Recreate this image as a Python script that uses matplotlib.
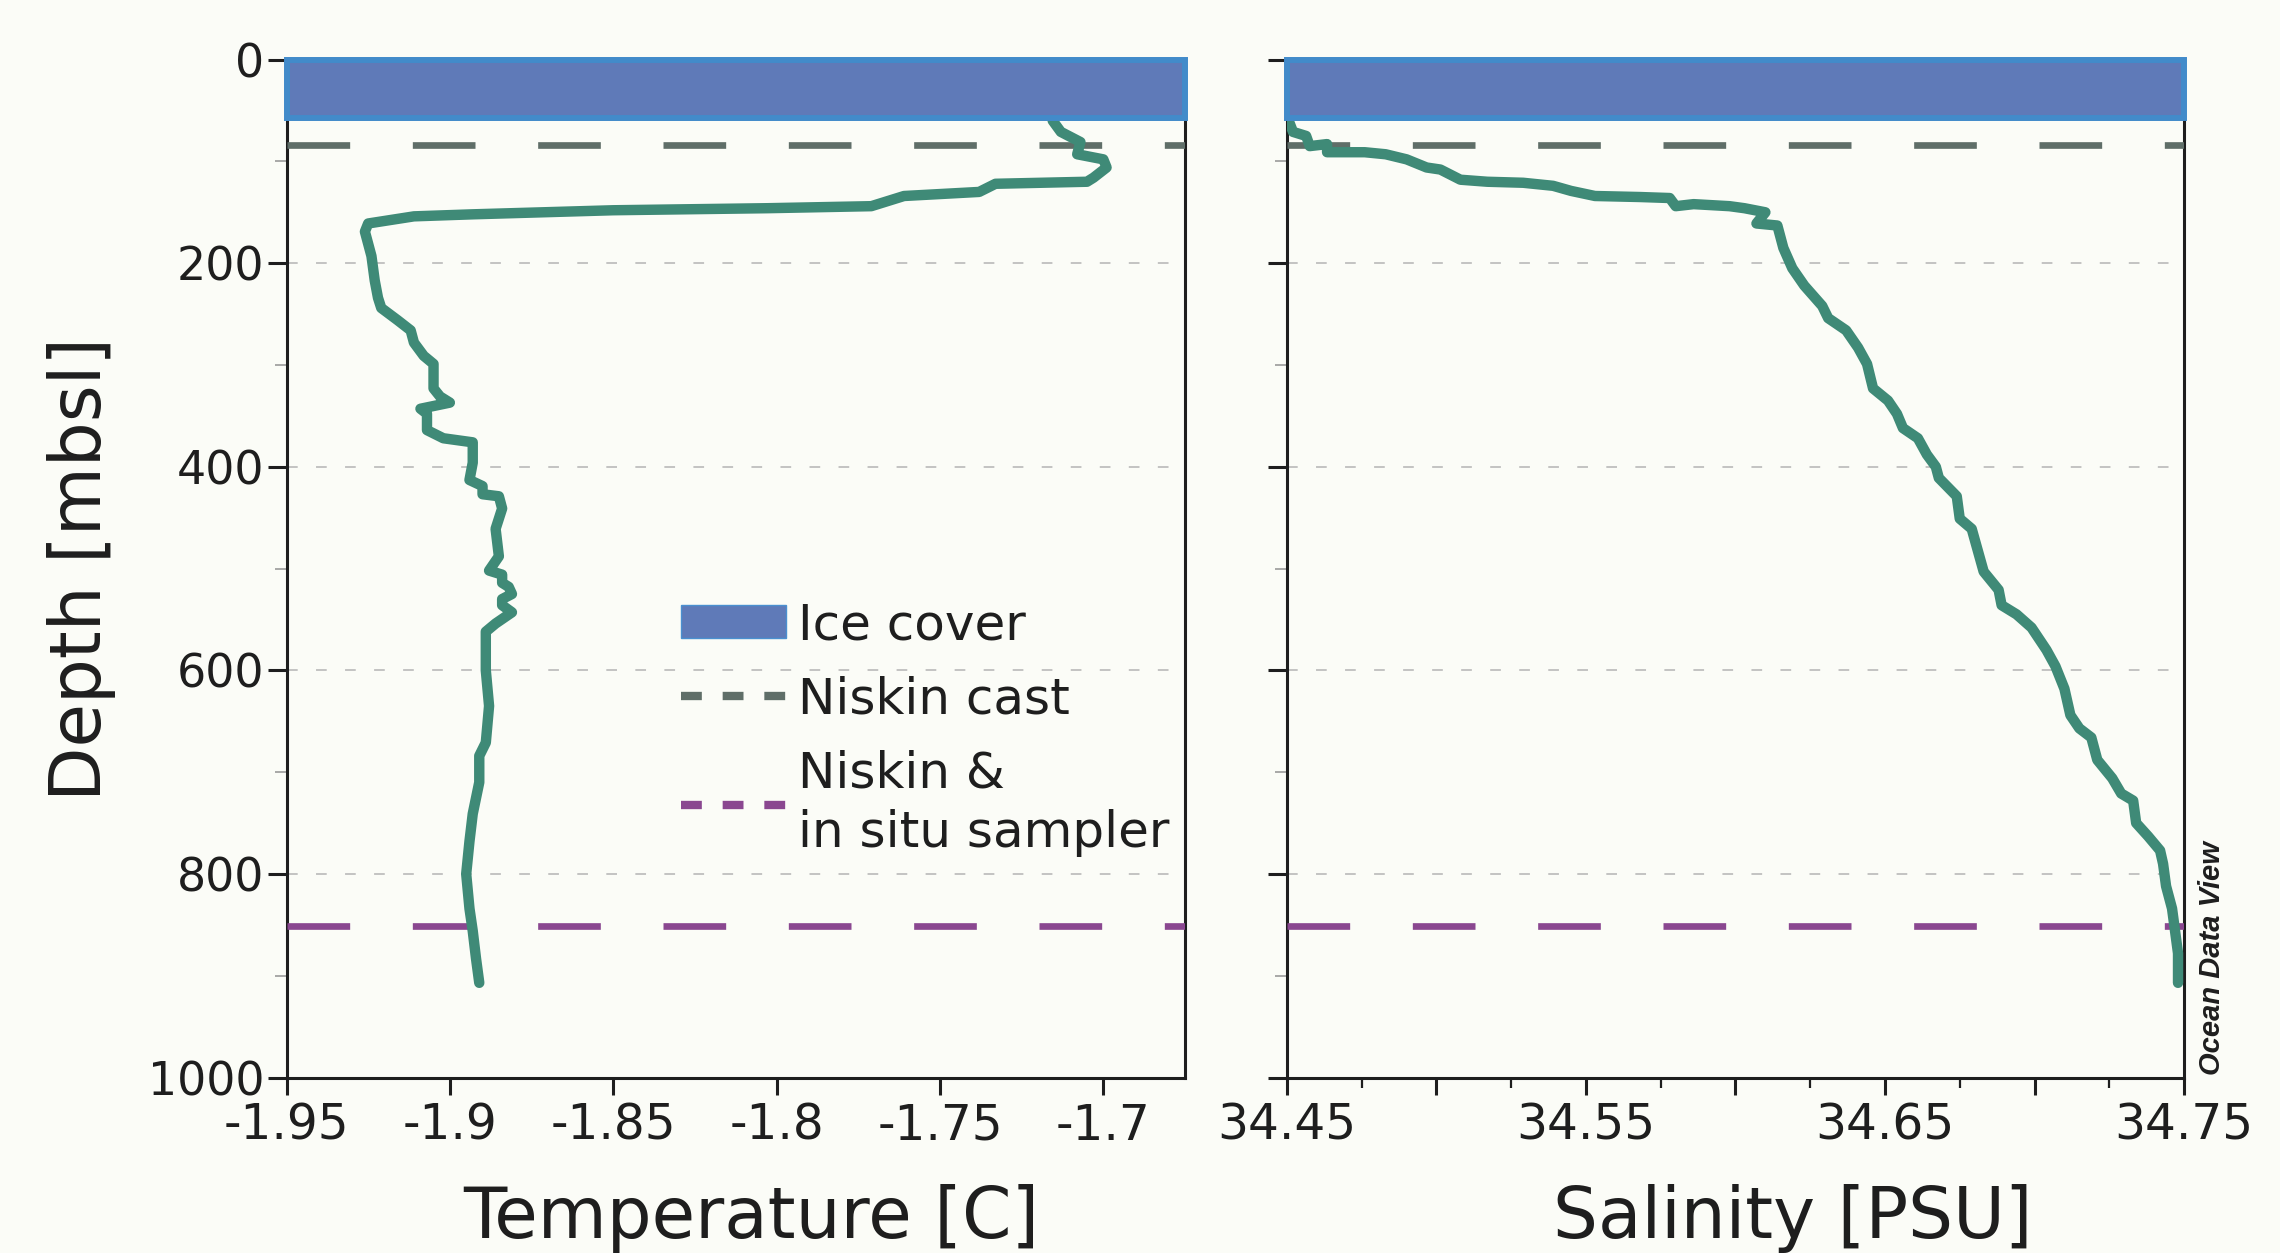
import matplotlib
matplotlib.use("Agg")
import matplotlib.pyplot as plt
from matplotlib.lines import Line2D
from matplotlib.patches import Patch
from matplotlib.ticker import FixedLocator

# ---------------- data ----------------
temp_depth = [60, 71, 81, 93, 98, 106, 116, 120, 122, 130, 134, 144, 146, 148, 152,
              154, 161, 169, 193, 217, 234, 244, 256, 266, 278, 291, 299, 323, 331, 337,
              343, 348, 364, 372, 376, 396, 413, 419, 427, 429, 441, 461, 488, 502, 506,
              514, 518, 525, 530, 536, 543, 554, 562, 600, 635, 671, 684, 710, 741, 768,
              800, 834, 856, 883, 907]
temperature = [-1.7155, -1.713, -1.707, -1.708, -1.700, -1.699, -1.703, -1.705, -1.733, -1.738,
               -1.761, -1.771, -1.803, -1.850, -1.893, -1.911, -1.925, -1.926, -1.924, -1.923,
               -1.922, -1.921, -1.916, -1.912, -1.911, -1.908, -1.905, -1.905, -1.903, -1.900,
               -1.909, -1.907, -1.907, -1.902, -1.893, -1.893, -1.894, -1.890, -1.890, -1.885,
               -1.884, -1.886, -1.885, -1.888, -1.884, -1.884, -1.882, -1.881, -1.884, -1.884,
               -1.881, -1.886, -1.889, -1.889, -1.888, -1.889, -1.891, -1.891, -1.893, -1.894,
               -1.895, -1.894, -1.893, -1.892, -1.891]

sal_depth = [61, 71, 75, 85, 83, 91, 91, 93, 98, 106, 108, 118, 120, 121, 124,
             129, 134, 135, 136, 144, 142, 144, 146, 150, 161, 163, 185, 205, 222, 242,
             254, 266, 283, 299, 323, 335, 348, 362, 372, 388, 400, 411, 429, 451, 461,
             482, 503, 521, 536, 545, 558, 580, 596, 618, 644, 657, 666, 688, 706, 721,
             728, 750, 763, 777, 790, 812, 834, 856, 878, 907]
salinity = [34.4507, 34.452, 34.4564, 34.4576, 34.4634, 34.4634, 34.476, 34.483, 34.490, 34.4967,
            34.5013, 34.508, 34.517, 34.529, 34.539, 34.545, 34.553, 34.568, 34.578, 34.580,
            34.586, 34.598, 34.603, 34.610, 34.607, 34.614, 34.616, 34.619, 34.623, 34.629,
            34.631, 34.637, 34.641, 34.644, 34.646, 34.651, 34.654, 34.656, 34.661, 34.664,
            34.667, 34.668, 34.674, 34.675, 34.679, 34.681, 34.683, 34.688, 34.689, 34.694,
            34.699, 34.704, 34.707, 34.710, 34.712, 34.715, 34.719, 34.721, 34.726, 34.729,
            34.733, 34.734, 34.738, 34.742, 34.743, 34.744, 34.746, 34.747, 34.748, 34.748]

ice_top, ice_bottom = 0, 57.5
niskin_cast_depth = 84
niskin_insitu_depth = 851

depth_ticks = [0, 200, 400, 600, 800, 1000]
depth_minor = [100, 300, 500, 700, 900]
temp_ticks = [-1.95, -1.9, -1.85, -1.8, -1.75, -1.7]
temp_labels = ["-1.95", "-1.9", "-1.85", "-1.8", "-1.75", "-1.7"]
sal_ticks = [34.45, 34.50, 34.55, 34.60, 34.65, 34.70, 34.75]
sal_labels = ["34.45", "", "34.55", "", "34.65", "", "34.75"]
sal_minor = [34.475, 34.525, 34.575, 34.625, 34.675, 34.725]

legend_labels = ["Ice cover", "Niskin cast", "Niskin &\nin situ sampler"]

# ---------------- style ----------------
BG = "#fbfcf7"
TXT = "#1e1e1e"
TEAL = "#3f8a77"
ICE_FACE = "#5f7ab8"
ICE_EDGE = "#428bca"
GREY = "#5f6e68"
PURPLE = "#8a4790"
GRID = "#b4b4b4"

plt.rcParams["font.family"] = ["DejaVu Sans"]
plt.rcParams["text.color"] = TXT

W, H = 2280, 1253
fig = plt.figure(figsize=(W / 100, H / 100), dpi=100, facecolor=BG)

ax_bottom = 1 - 1077.5 / H
ax_h = 1017.9 / H
ax1 = fig.add_axes([286.5 / W, ax_bottom, 898.5 / W, ax_h])
ax2 = fig.add_axes([1287 / W, ax_bottom, 897 / W, ax_h])


def style_axes(ax):
    ax.set_facecolor(BG)
    ax.set_ylim(1000, 0)
    for s in ["left", "right", "bottom"]:
        ax.spines[s].set_color(TXT)
        ax.spines[s].set_linewidth(2.2)
    ax.spines["top"].set_visible(False)
    ax.yaxis.set_major_locator(FixedLocator(depth_ticks))
    ax.yaxis.set_minor_locator(FixedLocator(depth_minor))
    ax.tick_params(axis="y", which="major", direction="out", length=14, width=2.2,
                   color=TXT, labelsize=33, labelcolor=TXT, pad=2)
    ax.tick_params(axis="y", which="minor", direction="out", length=9, width=1.2,
                   color="#9a9a9a")
    ax.tick_params(axis="x", which="major", direction="out", length=12.5, width=2.2,
                   color=TXT, labelsize=35, labelcolor=TXT, pad=5)
    for d in depth_ticks[1:-1]:
        ax.axhline(d, color=GRID, lw=1.1, dashes=(7, 12), zorder=1)
    ax.axhspan(ice_top, ice_bottom, facecolor=ICE_FACE, edgecolor=ICE_EDGE, lw=4.3,
               zorder=5, clip_on=False)
    ax.axhline(niskin_cast_depth, color=GREY, lw=4.8, dashes=(9.4, 9.4), zorder=3)
    ax.axhline(niskin_insitu_depth, color=PURPLE, lw=4.8, dashes=(9.4, 9.4), zorder=3)


style_axes(ax1)
style_axes(ax2)

ax1.plot(temperature, temp_depth, color=TEAL, lw=7.5, solid_capstyle="round",
         solid_joinstyle="round", zorder=4)
ax2.plot(salinity, sal_depth, color=TEAL, lw=7.5, solid_capstyle="round",
         solid_joinstyle="round", zorder=4)

ax1.set_xlim(-1.95, -1.675)
ax1.xaxis.set_major_locator(FixedLocator(temp_ticks))
ax1.set_xticklabels(temp_labels)

ax2.set_xlim(34.45, 34.75)
ax2.xaxis.set_major_locator(FixedLocator(sal_ticks))
ax2.set_xticklabels(sal_labels)
ax2.xaxis.set_minor_locator(FixedLocator(sal_minor))
ax2.tick_params(axis="x", which="minor", direction="out", length=7, width=1.6, color=TXT)
ax2.tick_params(axis="y", labelleft=False)

ax1.set_ylabel("Depth [mbsl]", fontsize=51, color=TXT)
ax1.yaxis.set_label_coords(-0.19, 0.5)
ax1.set_xlabel("Temperature [C]", fontsize=51, color=TXT)
ax1.xaxis.set_label_coords(0.517, -0.105)
ax2.set_xlabel("Salinity [PSU]", fontsize=51, color=TXT)
ax2.xaxis.set_label_coords(0.564, -0.105)

handles = [
    Patch(facecolor=ICE_FACE, edgecolor="#4a90d0", lw=1),
    Line2D([0], [0], color=GREY, lw=6, dashes=(2.5, 2.5)),
    Line2D([0], [0], color=PURPLE, lw=6, dashes=(2.5, 2.5)),
]
leg = ax1.legend(handles, legend_labels, loc="upper left", bbox_to_anchor=(0.439, 0.468),
                 frameon=False, fontsize=36, handlelength=2.1, handleheight=0.65,
                 handletextpad=0.25, labelspacing=0.52, borderpad=0, borderaxespad=0)
for t in leg.get_texts():
    t.set_color(TXT)
    t.set_linespacing(1.3)

fig.text(2212 / W, 1 - 1075 / H, "Ocean Data View", rotation=90, ha="center", va="bottom",
         family=["Liberation Sans", "DejaVu Sans"], fontweight="bold", fontstyle="italic",
         fontsize=21, color=TXT)

fig.savefig("out.png", dpi=100, facecolor=BG)
